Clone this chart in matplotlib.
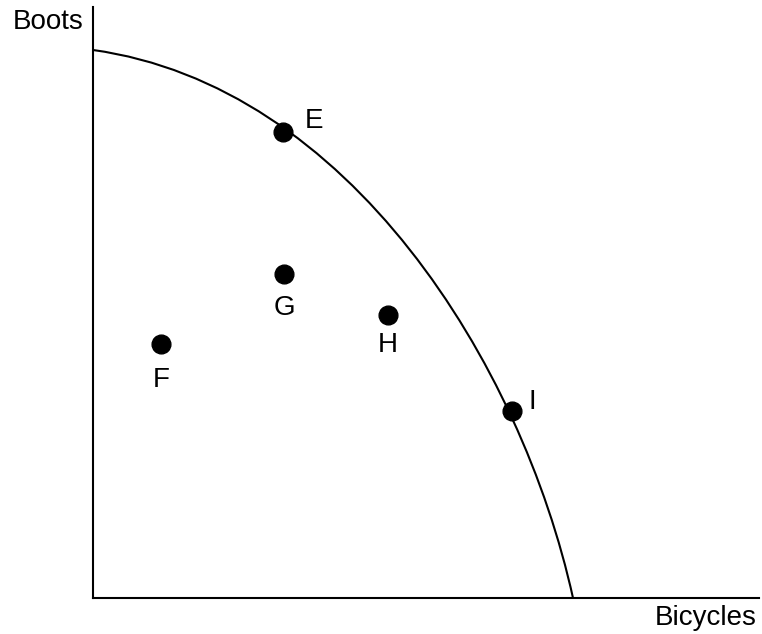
import numpy as np
import matplotlib
matplotlib.use("Agg")
import matplotlib.pyplot as plt
from matplotlib.path import Path
from matplotlib.patches import PathPatch

plt.rcParams['font.family'] = ['Liberation Sans', 'DejaVu Sans']

# ---- data (units = arbitrary quantity scale) ----
curve_x = [0, 47, 97, 147, 190, 237, 270, 304, 332, 360, 384, 404, 419, 440, 460, 474, 480]
curve_y = [548, 540, 526, 500, 466, 433, 395, 363, 330, 293, 251, 215, 187, 115, 65, 25, 0]

point_labels = ["E", "F", "G", "H", "I"]
point_x = [190, 68, 191, 295, 419]
point_y = [466, 254, 324, 283, 187]

x_label = "Bicycles"
y_label = "Boots"

# ---- smooth the read curve points with a single cubic Bezier (ends fixed) ----
cx = np.array(curve_x, float)
cy = np.array(curve_y, float)
P = np.column_stack([cx, cy])
P0, P3 = P[0], P[-1]
d = np.r_[0, np.cumsum(np.hypot(np.diff(cx), np.diff(cy)))]
t = d / d[-1]
for _ in range(30):
    b0 = (1 - t) ** 3
    b1 = 3 * (1 - t) ** 2 * t
    b2 = 3 * (1 - t) * t ** 2
    b3 = t ** 3
    A = np.column_stack([b1, b2])
    rhs = P - np.outer(b0, P0) - np.outer(b3, P3)
    sol, *_ = np.linalg.lstsq(A, rhs, rcond=None)
    P1, P2 = sol
    ts = np.linspace(0, 1, 2001)
    B = (np.outer((1 - ts) ** 3, P0) + np.outer(3 * (1 - ts) ** 2 * ts, P1)
         + np.outer(3 * (1 - ts) * ts ** 2, P2) + np.outer(ts ** 3, P3))
    dist = ((P[:, None, :] - B[None, :, :]) ** 2).sum(-1)
    t = ts[dist.argmin(axis=1)]
    t[0], t[-1] = 0, 1

fig = plt.figure(figsize=(7.62, 6.34), dpi=100)
ax = fig.add_axes([93 / 762, 36 / 634, 666 / 762, 591 / 634])
ax.set_xlim(0, 666)
ax.set_ylim(0, 591)

path = Path([P0, P1, P2, P3], [Path.MOVETO, Path.CURVE4, Path.CURVE4, Path.CURVE4])
ax.add_patch(PathPatch(path, facecolor='none', edgecolor='black', lw=1.5, clip_on=False))

ax.plot(point_x, point_y, 'o', color='black', markersize=13.5, zorder=5, clip_on=False)

offsets = {"E": (22.3, 2.9), "F": (0, -31), "G": (0, -29.5), "H": (0, -26.6), "I": (14.4, 1.4)}
for lab, x, y in zip(point_labels, point_x, point_y):
    ax.annotate(lab, (x, y), xytext=offsets[lab], textcoords='offset points',
                ha='center', va='baseline', fontsize=20)

for s in ['top', 'right']:
    ax.spines[s].set_visible(False)
for s in ['left', 'bottom']:
    ax.spines[s].set_linewidth(1.5)
    ax.spines[s].set_color('black')
ax.set_xticks([])
ax.set_yticks([])

fig.text(705.5 / 762, 1 - 625 / 634, x_label, ha='center', va='baseline', fontsize=20)
fig.text(48.5 / 762, 1 - 29 / 634, y_label, ha='center', va='baseline', fontsize=20)

fig.savefig("out.png", dpi=100)
